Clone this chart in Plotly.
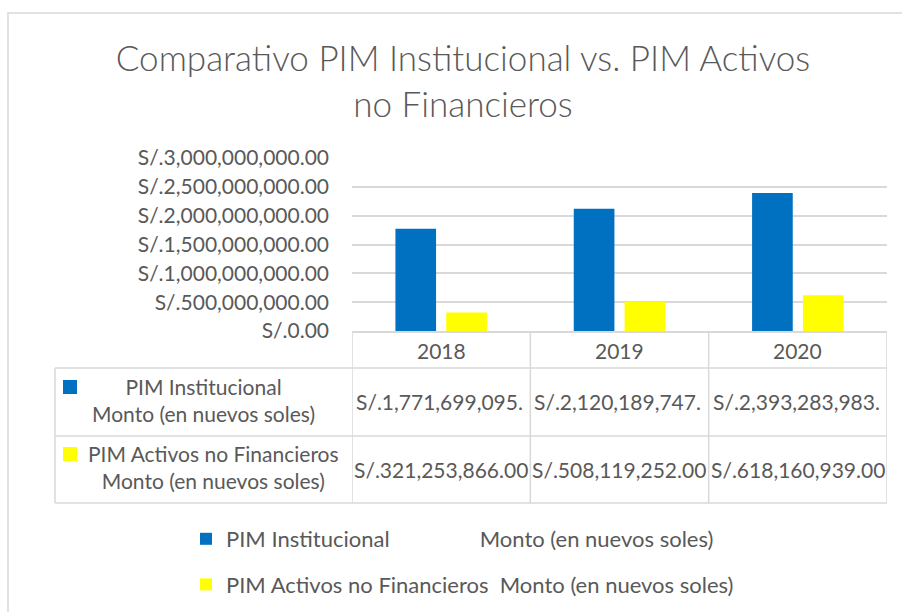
import plotly.graph_objects as go

# ---- data ----
years = ["2018", "2019", "2020"]
series_names = ["PIM Institucional", "PIM Activos no Financieros"]
unit_label = "Monto (en nuevos soles)"
pim_institucional = [1771699095.00, 2120189747.00, 2393283983.00]
pim_activos_nf = [321253866.00, 508119252.00, 618160939.00]
y_ticks = [0, 500000000, 1000000000, 1500000000, 2000000000, 2500000000, 3000000000]

W, H = 902, 612
FONT = "Lato"
TXT = "#595959"
GRID = "#D9D9D9"
BLUE = "#0070C0"
YELLOW = "#FFFF00"


def px(x):
    return x / W


def py(y):
    return 1 - y / H


def money(v):
    return "S/.{:,.2f}".format(v)


NBSP = "\u00a0"
legend_names = [
    series_names[0] + NBSP * 16 + unit_label,
    series_names[1] + NBSP * 2 + unit_label,
]

fig = go.Figure()
fig.add_trace(go.Bar(x=years, y=pim_institucional, name=legend_names[0],
                     marker=dict(color=BLUE, line=dict(width=0)), legendgroup="a"))
fig.add_trace(go.Bar(x=years, y=pim_activos_nf, name=legend_names[1],
                     marker=dict(color=YELLOW, line=dict(width=0)), legendgroup="b"))

shapes = []
# outer chart border
shapes.append(dict(type="rect", xref="paper", yref="paper", x0=px(8), x1=px(960), y0=py(13), y1=py(680),
                   line=dict(color=GRID, width=1.5), layer="below"))
# data table horizontal lines
for yy in [368, 436, 503]:
    shapes.append(dict(type="line", xref="paper", yref="paper", x0=px(55), x1=px(887), y0=py(yy), y1=py(yy),
                       line=dict(color=GRID, width=1.5)))
# left border of the table
shapes.append(dict(type="line", xref="paper", yref="paper", x0=px(55), x1=px(55), y0=py(368), y1=py(503),
                   line=dict(color=GRID, width=1.5)))
# column separators, at category boundaries
for i in range(len(years) + 1):
    shapes.append(dict(type="line", xref="x", yref="paper", x0=i - 0.5, x1=i - 0.5, y0=py(331), y1=py(503),
                       line=dict(color=GRID, width=1.5)))
# legend keys in the table
shapes.append(dict(type="rect", xref="paper", yref="paper", x0=px(63), x1=px(77), y0=py(394), y1=py(380),
                   fillcolor=BLUE, line=dict(width=0)))
shapes.append(dict(type="rect", xref="paper", yref="paper", x0=px(63), x1=px(77), y0=py(461), y1=py(447),
                   fillcolor=YELLOW, line=dict(width=0)))

annotations = []
tf = dict(family=FONT, size=21, color=TXT)
for i, yr in enumerate(years):
    annotations.append(dict(x=i, y=py(350), xref="x", yref="paper", text=yr, showarrow=False,
                            font=tf, xanchor="center", yanchor="middle"))
    # row 1 values (clipped in the original cell)
    annotations.append(dict(x=i - 0.5, y=py(401), xref="x", yref="paper", text=money(pim_institucional[i])[:-2],
                            showarrow=False, font=tf, xanchor="left", yanchor="middle", xshift=2))
    annotations.append(dict(x=i - 0.5, y=py(469), xref="x", yref="paper", text=money(pim_activos_nf[i]),
                            showarrow=False, font=tf, xanchor="left", yanchor="middle", xshift=0))
annotations.append(dict(x=px(203), y=py(400), xref="paper", yref="paper",
                        text=series_names[0] + "<br>" + unit_label, showarrow=False, font=tf,
                        xanchor="center", yanchor="middle", align="center"))
annotations.append(dict(x=px(213), y=py(467), xref="paper", yref="paper",
                        text=series_names[1] + "<br>" + unit_label, showarrow=False, font=tf,
                        xanchor="center", yanchor="middle", align="center"))

fig.update_layout(
    width=W, height=H,
    margin=dict(l=0, r=0, t=0, b=0, autoexpand=False),
    paper_bgcolor="white", plot_bgcolor="white",
    font=dict(family=FONT, color=TXT, size=21),
    title=dict(text="Comparativo PIM Institucional vs. PIM Activos<br>no Financieros",
               x=px(463), xanchor="center", y=py(71), yanchor="middle",
               font=dict(family=FONT, size=35, color=TXT, weight=300)),
    barmode="group", bargap=0.43, bargroupgap=0.2,
    xaxis=dict(type="category", domain=[px(352), px(887)], showticklabels=False, showgrid=False,
               showline=True, linecolor=GRID, linewidth=1.5, ticks="", zeroline=False,
               range=[-0.5, len(years) - 0.5], automargin=False, fixedrange=True),
    yaxis=dict(domain=[py(331), py(158)], range=[0, 3000000000], tickmode="array", tickvals=y_ticks,
               ticktext=[money(v) for v in y_ticks], showgrid=True, gridcolor=GRID, gridwidth=1.5,
               zeroline=False, showline=False, ticks="", ticklabelstandoff=22, automargin=False,
               fixedrange=True, tickfont=dict(family=FONT, size=21, color=TXT)),
    legend=dict(orientation="v", x=px(186), xanchor="left", y=py(518), yanchor="top",
                font=dict(family=FONT, size=22, color=TXT), tracegroupgap=14,
                traceorder="grouped", bgcolor="rgba(0,0,0,0)"),
    shapes=shapes,
    annotations=annotations,
)

fig.write_html("out.html", config={"displayModeBar": False},
               post_script="document.body.style.margin='0';document.body.style.overflow='hidden';")
